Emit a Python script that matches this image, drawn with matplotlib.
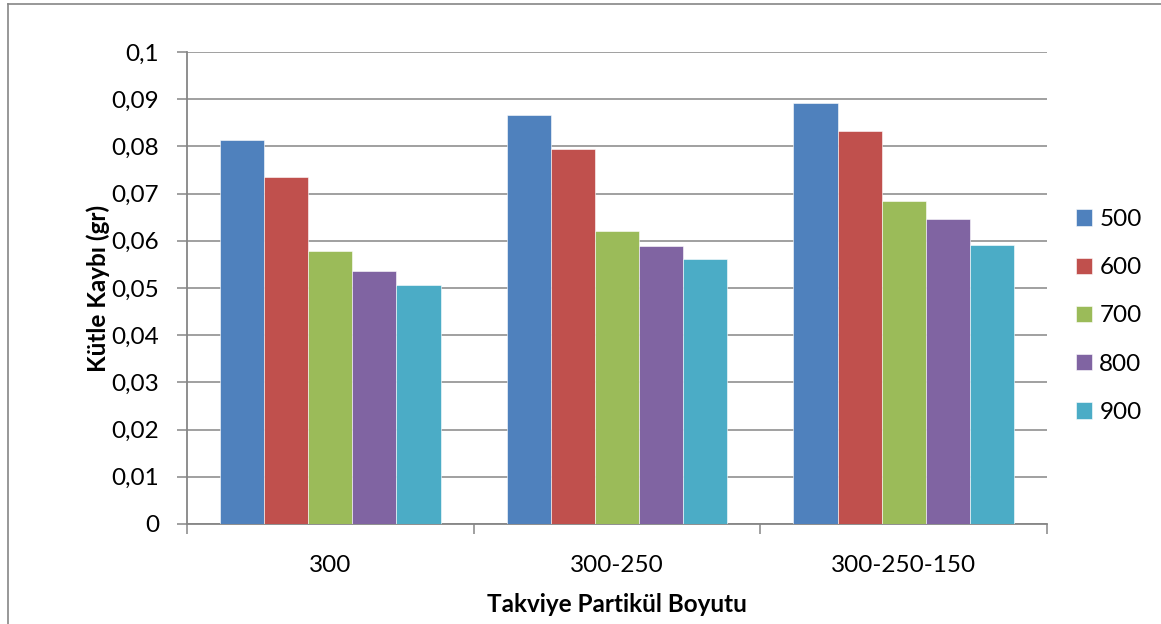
import numpy as np
import matplotlib
matplotlib.use("Agg")
import matplotlib.pyplot as plt
from matplotlib.lines import Line2D

plt.rcParams['font.family'] = ['Lato', 'DejaVu Sans']

# Data
categories = ["300", "300-250", "300-250-150"]
series_names = ["500", "600", "700", "800", "900"]
v500 = [0.0813, 0.0867, 0.0892]
v600 = [0.0735, 0.0794, 0.0833]
v700 = [0.0579, 0.0621, 0.0685]
v800 = [0.0535, 0.0590, 0.0647]
v900 = [0.0507, 0.0562, 0.0592]
series_values = [v500, v600, v700, v800, v900]
colors = ["#4F81BD", "#C0504D", "#9BBB59", "#8064A2", "#4BACC6"]
yticks = [0, 0.01, 0.02, 0.03, 0.04, 0.05, 0.06, 0.07, 0.08, 0.09, 0.1]
ytick_labels = ["0", "0,01", "0,02", "0,03", "0,04", "0,05", "0,06", "0,07", "0,08", "0,09", "0,1"]

W, H = 1161, 624
fig = plt.figure(figsize=(W / 100, H / 100), dpi=100)
ax = fig.add_axes([187 / W, 1 - 524 / H, (1047 - 187) / W, (524 - 52) / H])

grid_col = "#868686"
fs = 17.5
n = len(series_names)
bw = 1 / (n + 1.5)
x = np.arange(len(categories))
for i, (name, vals, c) in enumerate(zip(series_names, series_values, colors)):
    ax.bar(x + (i - (n - 1) / 2) * bw, vals, width=bw, color=c,
           edgecolor="white", linewidth=0.4, label=name, zorder=3)

ax.set_xlim(-0.5, len(categories) - 0.5)
ax.set_ylim(0, 0.1)
ax.set_yticks(yticks)
ax.set_yticklabels(ytick_labels)
ax.yaxis.grid(True, color=grid_col, linewidth=1.1, zorder=0)
ax.set_axisbelow(True)

ax.set_xticks(np.arange(len(categories) + 1) - 0.5)
ax.set_xticklabels([])
ax.set_xticks(x, minor=True)
ax.set_xticklabels(categories, minor=True)
ax.tick_params(axis="x", which="major", length=7, width=1.1, color=grid_col, direction="out")
ax.tick_params(axis="x", which="minor", length=0, pad=22, labelsize=fs)
ax.tick_params(axis="y", length=7, width=1.1, color=grid_col, direction="out", pad=13, labelsize=fs)

for s in ["top", "right"]:
    ax.spines[s].set_visible(False)
for s in ["left", "bottom"]:
    ax.spines[s].set_color(grid_col)
    ax.spines[s].set_linewidth(1.3)

ax.set_xlabel("Takviye Partikül Boyutu", fontsize=17.5, fontweight="bold")
ax.set_ylabel("Kütle Kaybı (gr)", fontsize=17.5, fontweight="bold")
ax.yaxis.set_label_coords((110 - 187) / 860, 0.5)
ax.xaxis.set_label_coords(0.5, -(593 - 524) / 472)
ax.xaxis.label.set_va("top")

leg = fig.legend(loc="center left", bbox_to_anchor=(1076 / W, 1 - 316 / H),
                 frameon=False, fontsize=fs, handlelength=0.66, handleheight=0.66,
                 handletextpad=0.3, labelspacing=1.12, borderpad=0, borderaxespad=0)

# Outer chart border (left and top edges)
fig.add_artist(Line2D([8 / W, 8 / W], [0, 1 - 4 / H], transform=fig.transFigure,
                      color=grid_col, linewidth=1.2))
fig.add_artist(Line2D([8 / W, 1], [1 - 4 / H, 1 - 4 / H], transform=fig.transFigure,
                      color=grid_col, linewidth=1.2))

fig.savefig("out.png", dpi=100)
